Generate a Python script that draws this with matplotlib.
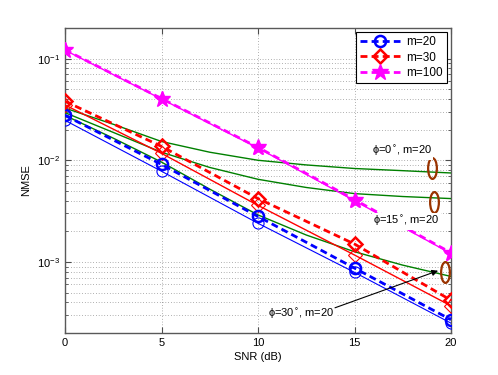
import numpy as np
import matplotlib
matplotlib.use("Agg")
import matplotlib.pyplot as plt
from matplotlib.path import Path
from matplotlib.transforms import Affine2D
import matplotlib.ticker as mticker

plt.rcParams['font.family'] = ['Liberation Sans', 'DejaVu Sans']
plt.rcParams['mathtext.fontset'] = 'dejavusans'

# ---- data ----
snr = [0, 5, 10, 15, 20]
m20_dash = [0.0276, 0.0091, 0.0028, 0.00087, 0.00027]
m20_solid = [0.0247, 0.0078, 0.0024, 0.00079, 0.00025]
m30_dash = [0.038, 0.0137, 0.0042, 0.00150, 0.00042]
m30_solid = [0.035, 0.0117, 0.0036, 0.00117, 0.00037]
m100_dash = [0.122, 0.0405, 0.0134, 0.0041, 0.00123]
m100_solid = [0.121, 0.0400, 0.0132, 0.0040, 0.00121]

snr_fine = [0, 2.5, 5, 7.5, 10, 12.5, 15, 17.5, 20]
phi0 = [0.0326, 0.0226, 0.0153, 0.0120, 0.0100, 0.0090, 0.0083, 0.0079, 0.0075]
phi15 = [0.0294, 0.0188, 0.0120, 0.0085, 0.0065, 0.0054, 0.0047, 0.0044, 0.0042]
phi30 = [0.0276, 0.0165, 0.0096, 0.0052, 0.0029, 0.00184, 0.00126, 0.00093, 0.00072]

legend_labels = ['m=20', 'm=30', 'm=100']
xticks = [0, 5, 10, 15, 20]

ann_texts = ['\u03d5=0$^{\\circ}$, m=20', '\u03d5=15$^{\\circ}$, m=20', '\u03d5=30$^{\\circ}$, m=20']
ann_x = [17.46, 17.7, 12.26]
ann_y = [0.01225, 0.00252, 0.00031]
ell_x = [19.02, 19.1, 19.69]
ell_y = [0.00835, 0.00392, 0.00079]
arrow_start = (13.99, 3.54e-4)
arrow_end = (19.33, 8.2e-4)

# ---- figure ----
fig = plt.figure(figsize=(4.98, 3.75), dpi=100)
ax = fig.add_axes([65/498, 1-333/375, (451-65)/498, (333-28)/375])
ax.set_yscale('log')

BLUE = (0, 0, 1)
RED = (1, 0, 0)
MAG = (1, 0, 1)
GREEN = (0, 0.5, 0)
dash = (2.5, 1.5)

# green curves
for g in (phi0, phi15, phi30):
    ax.plot(snr_fine, g, '-', color=GREEN, lw=1.0, zorder=3)

# solid thin curves
ax.plot(snr, m20_solid, '-', color=BLUE, lw=0.8, marker='o', ms=8, mfc='none', mew=0.8, zorder=4)
ax.plot(snr, m30_solid, '-', color=RED, lw=1.0, marker='D', ms=7, mfc='none', mew=0.8, zorder=4)
ax.plot(snr, m100_solid, '-', color=MAG, lw=1.0, marker='*', ms=11, mfc=MAG, mew=0.8, zorder=4)

# dashed thick curves
h1, = ax.plot(snr, m20_dash, '--', color=BLUE, lw=2, dashes=dash, marker='o', ms=8, mfc='none', mew=1.8, zorder=5)
h2, = ax.plot(snr, m30_dash, '--', color=RED, lw=2, dashes=dash, marker='D', ms=7, mfc='none', mew=1.8, zorder=5)
h3, = ax.plot(snr, m100_dash, '--', color=MAG, lw=2, dashes=dash, marker='*', ms=12, mfc=MAG, mew=1.0, zorder=5)

# ellipses
ell_path = Path.unit_circle().transformed(Affine2D().scale(0.42, 1.0))
ax.plot(ell_x, ell_y, ls='none', marker=ell_path, ms=15, mfc='none',
        mec=(0.6, 0.2, 0.0), mew=1.6, zorder=7)

# annotation texts
for t, x, y in zip(ann_texts, ann_x, ann_y):
    ax.text(x, y, t, ha='center', va='center', fontsize=8, zorder=8,
            bbox=dict(facecolor='white', edgecolor='none', pad=1.0))
ax.annotate('', xy=arrow_end, xytext=arrow_start,
            arrowprops=dict(arrowstyle='-|>', color='k', lw=0.8, mutation_scale=9,
                            shrinkA=0, shrinkB=0), zorder=8)

ax.set_xlim(0, 20)
ax.set_ylim(2e-4, 2e-1)
ax.set_xticks(xticks)
ax.set_xticklabels([str(v) for v in xticks])
ax.set_xlabel('SNR (dB)', fontsize=8, labelpad=3)
ax.set_ylabel('NMSE', fontsize=8, labelpad=4)

ax.grid(True, which='major', axis='both', ls=(0, (1, 3)), color='k', lw=0.5, alpha=0.6)
ax.grid(True, which='minor', axis='y', ls=(0, (1, 3)), color='k', lw=0.5, alpha=0.6)
ax.tick_params(which='both', direction='in', top=True, right=True, labelsize=8, color='0.3')
ax.tick_params(which='major', length=4)
ax.tick_params(which='minor', length=2)
ax.xaxis.set_minor_locator(mticker.NullLocator())
for s in ax.spines.values():
    s.set_color('0.35')
    s.set_linewidth(1.0)

leg = ax.legend([h1, h2, h3], legend_labels, loc='upper right', fontsize=8.5,
                fancybox=False, framealpha=1, edgecolor='k', handlelength=3.4,
                borderaxespad=0.35, labelspacing=0.28, handletextpad=0.5, borderpad=0.35)
leg.get_frame().set_linewidth(0.8)
leg.set_zorder(10)

fig.savefig('out.png', dpi=100)
